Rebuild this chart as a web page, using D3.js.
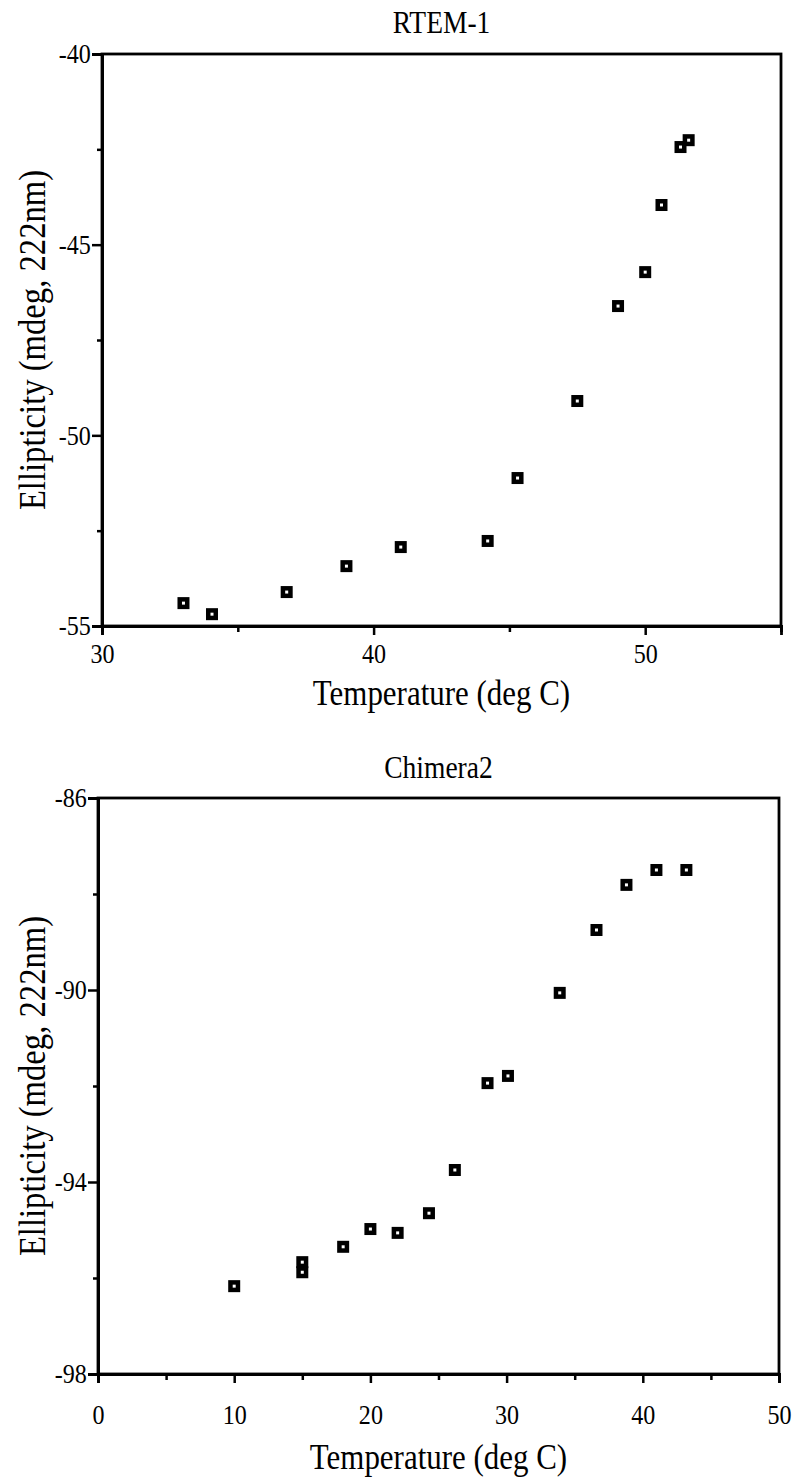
<!DOCTYPE html>
<html>
<head>
<meta charset="utf-8">
<script src="https://cdn.jsdelivr.net/npm/d3@7"></script>
<style>
  html, body { margin: 0; padding: 0; background: #fff; }
  svg { display: block; }
  text { font-family: "Liberation Serif", "DejaVu Serif", serif; fill: #000; }
</style>
</head>
<body>
<svg id="chart" width="794" height="1480"></svg>
<script>
// ---------- data ----------
const rtemTitle = "RTEM-1";
const rtemTemp  = [33.0, 34.05, 36.8, 39.0, 41.0, 44.2, 45.3, 47.5, 49.0, 50.0, 50.6, 51.3, 51.6];
const rtemEllip = [-54.40, -54.69, -54.11, -53.43, -52.93, -52.77, -51.12, -49.10, -46.61, -45.72, -43.96, -42.44, -42.26];
const rtemXTicks = [30, 40, 50];
const rtemXMinor = [35, 45, 55];
const rtemYTicks = [-40, -45, -50, -55];
const rtemYMinor = [-42.5, -47.5, -52.5];

const chimTitle = "Chimera2";
const chimTemp  = [10, 15, 15, 18, 20, 22, 24.3, 26.2, 28.6, 30.1, 33.9, 36.6, 38.8, 41.0, 43.2];
const chimEllip = [-96.17, -95.67, -95.88, -95.35, -94.98, -95.06, -94.65, -93.75, -91.94, -91.79, -90.06, -88.75, -87.81, -87.50, -87.50];
const chimXTicks = [0, 10, 20, 30, 40, 50];
const chimXMinor = [5, 15, 25, 35, 45];
const chimYTicks = [-86, -90, -94, -98];
const chimYMinor = [-88, -92, -96];

const xLabel = "Temperature (deg C)";
const yLabel = "Ellipticity (mdeg, 222nm)";

// ---------- drawing ----------
const svg = d3.select("#chart");
const SX = 0.86; // condensed look of the scanned serif font

function label(g, x, y, rot, size, str) {
  g.append("g").attr("transform", `translate(${x},${y}) rotate(${rot})`)
    .append("text")
    .attr("transform", `scale(${SX},1)`)
    .attr("text-anchor", "middle").attr("font-size", size)
    .text(str);
}

function panel(cfg) {
  const x = d3.scaleLinear().domain(cfg.xDomain).range([cfg.left, cfg.right]);
  const y = d3.scaleLinear().domain(cfg.yDomain).range([cfg.bottom, cfg.top]);
  const g = svg.append("g");

  g.append("rect")
    .attr("x", cfg.left).attr("y", cfg.top)
    .attr("width", cfg.right - cfg.left).attr("height", cfg.bottom - cfg.top)
    .attr("fill", "none").attr("stroke", "#000").attr("stroke-width", 2.8);

  const xa = g.append("g").attr("transform", `translate(0,${cfg.bottom})`)
    .call(d3.axisBottom(x).tickValues(cfg.xTicks).tickSize(9).tickPadding(cfg.xPad).tickFormat(d3.format("d")));
  const xm = g.append("g").attr("transform", `translate(0,${cfg.bottom})`)
    .call(d3.axisBottom(x).tickValues(cfg.xMinor).tickSize(6).tickFormat(""));
  const ya = g.append("g").attr("transform", `translate(${cfg.left},0)`)
    .call(d3.axisLeft(y).tickValues(cfg.yTicks).tickSize(10).tickPadding(3).tickFormat(d => String(d)));
  const ym = g.append("g").attr("transform", `translate(${cfg.left},0)`)
    .call(d3.axisLeft(y).tickValues(cfg.yMinor).tickSize(5).tickFormat(""));

  [xa, xm, ya, ym].forEach(a => {
    a.select(".domain").attr("stroke", "#000").attr("stroke-width", 2.8);
    a.selectAll(".tick line").attr("stroke", "#000").attr("stroke-width", 2.5);
    a.selectAll(".tick text")
      .attr("font-family", "Liberation Serif").attr("font-size", 28).attr("fill", "#000")
      .attr("transform", `scale(${SX},1)`);
  });

  label(g, (cfg.left + cfg.right) / 2, cfg.titleY, 0, 32, cfg.title);
  label(g, (cfg.left + cfg.right) / 2, cfg.xLabelY, 0, 36, xLabel);
  label(g, cfg.yLabelX, (cfg.top + cfg.bottom) / 2, -90, 38, yLabel);

  const pts = cfg.xs.map((v, i) => ({ t: v, e: cfg.ys[i] }));
  g.append("g").selectAll("rect.pt").data(pts).join("rect")
    .attr("class", "pt")
    .attr("x", d => x(d.t) - 3.75).attr("y", d => y(d.e) - 3.75)
    .attr("width", 7.5).attr("height", 7.5)
    .attr("fill", "#fff").attr("stroke", "#000").attr("stroke-width", 4.5);
}

panel({
  title: rtemTitle, titleY: 33,
  xDomain: [30, 55], yDomain: [-55, -40],
  left: 102, right: 781, top: 54, bottom: 626,
  xTicks: rtemXTicks, xMinor: rtemXMinor, yTicks: rtemYTicks, yMinor: rtemYMinor,
  xPad: 8, xLabelY: 705, yLabelX: 45,
  xs: rtemTemp, ys: rtemEllip
});

panel({
  title: chimTitle, titleY: 778,
  xDomain: [0, 50], yDomain: [-98, -86],
  left: 98, right: 779, top: 798, bottom: 1374,
  xTicks: chimXTicks, xMinor: chimXMinor, yTicks: chimYTicks, yMinor: chimYMinor,
  xPad: 21, xLabelY: 1469, yLabelX: 45,
  xs: chimTemp, ys: chimEllip
});
</script>
</body>
</html>
